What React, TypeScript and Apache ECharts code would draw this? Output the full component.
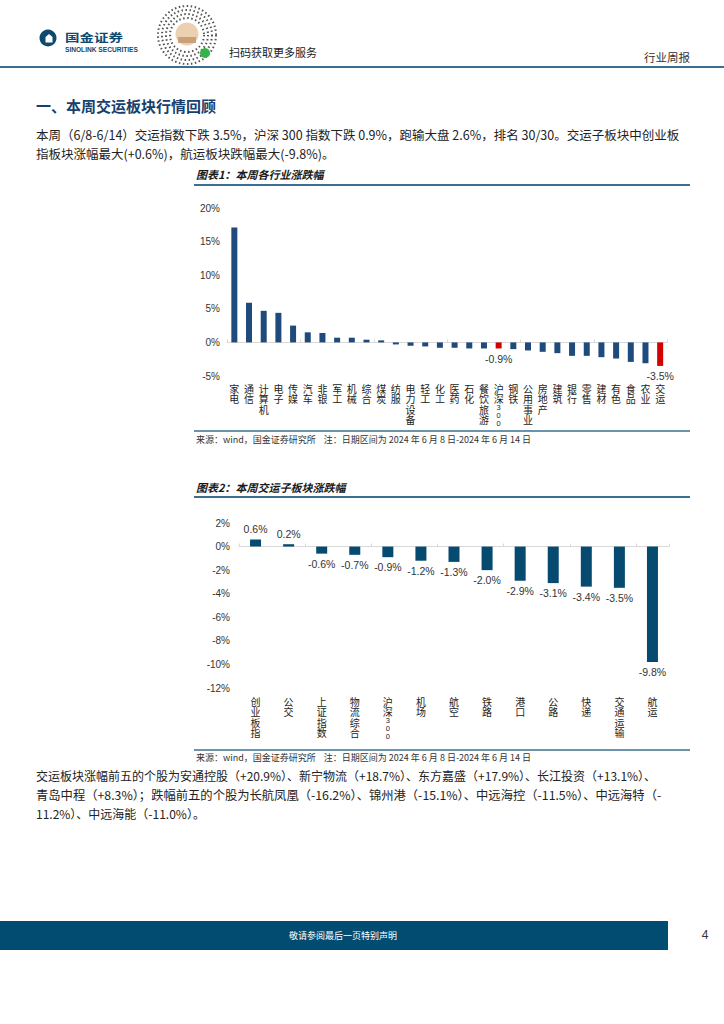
import React, { useEffect, useRef } from "react";
import * as echarts from "echarts";

const industries = ["家电","通信","计算机","电子","传媒","汽车","非银","军工","机械","综合","煤炭","纺服","电力设备","轻工","化工","医药","石化","餐饮旅游","沪深300","钢铁","公用事业","房地产","建筑","银行","零售","建材","有色","食品","农业","交运"];
const industryChanges = [17.1,5.9,4.7,4.4,2.5,1.5,1.4,0.7,0.7,0.4,0.3,-0.3,-0.5,-0.6,-0.8,-0.8,-0.9,-0.9,-0.9,-1.0,-1.2,-1.4,-1.6,-2.0,-2.0,-2.2,-2.4,-2.9,-3.1,-3.5];
const highlighted = ["沪深300","交运"];

const subSectors = ["创业板指","公交","上证指数","物流综合","沪深300","机场","航空","铁路","港口","公路","快递","交通运输","航运"];
const subChanges = [0.6,0.2,-0.6,-0.7,-0.9,-1.2,-1.3,-2.0,-2.9,-3.1,-3.4,-3.5,-9.8];

const chart1Ticks = { min: -5, max: 20, interval: 5 };
const chart2Ticks = { min: -12, max: 2, interval: 2 };

const NUM = '"Liberation Sans", Arial, "Noto Sans CJK SC", sans-serif';
const CJK = '"Noto Sans CJK SC", sans-serif';
const BLUE1 = "#1f4a7c";
const BLUE2 = "#064b6f";
const RED = "#d40000";
const RULE = "#3b6f91";
const DARK = "#0f4a6e";

function vertical(s: string) {
  const parts = s.match(/\d+|./g) || [];
  return parts
    .map((p) => (/\d/.test(p) ? p.split("").map((d) => `{d|${d}}`).join("\n") : `{c|${p}}`))
    .join("\n");
}

function txt(text: string, x: number, y: number, o: any = {}) {
  return {
    type: "text",
    silent: true,
    x,
    y,
    scaleY: o.scaleY || 1,
    style: {
      text,
      x: 0,
      y: 0,
      fill: o.fill || "#222",
      fontSize: o.fontSize || 12,
      fontFamily: o.fontFamily || CJK,
      fontWeight: o.fontWeight || "normal",
      fontStyle: o.fontStyle || "normal",
      textAlign: o.align || "left",
      textVerticalAlign: "middle",
    },
  };
}
function hline(x1: number, x2: number, y: number, w: number, color = RULE) {
  return { type: "line", silent: true, shape: { x1, y1: y, x2, y2: y }, style: { stroke: color, lineWidth: w } };
}

export default function App() {
  const ref = useRef<HTMLDivElement>(null);
  useEffect(() => {
    const chart = echarts.init(ref.current!, null, { renderer: "svg" });
    const richLabel = () => ({
      c: { fontSize: 10, lineHeight: 10.5, fontFamily: CJK, color: "#222" },
      d: { fontSize: 7.5, lineHeight: 7.6, fontFamily: NUM, color: "#222" },
    });
    const source = "来源：wind，国金证券研究所    注：日期区间为 2024 年 6 月 8 日-2024 年 6 月 14 日";
    const graphic: any[] = [
      // header
      { type: "circle", silent: true, shape: { cx: 48, cy: 38, r: 8.5 }, style: { fill: DARK } },
      { type: "polygon", silent: true, shape: { points: [[45.5, 42.5], [45.5, 37], [49, 34], [52.5, 37], [52.5, 42.5]] }, style: { fill: "#fff" } },
      txt("国金证券", 65, 37, { fontSize: 14.5, fontWeight: "bold", fill: DARK, scaleY: 0.75 }),
      txt("SINOLINK SECURITIES", 65, 49, { fontSize: 6.6, fontWeight: "bold", fill: DARK, fontFamily: NUM }),
      ...[29, 25, 21, 17].map((r) => ({
        type: "circle", silent: true, shape: { cx: 187, cy: 35, r },
        style: { fill: "none", stroke: "#555", lineWidth: 2, lineDash: [1.5, 2.5] },
      })),
      { type: "circle", silent: true, shape: { cx: 187, cy: 34, r: 11.5 }, style: { fill: "#ecd0b2" } },
      { type: "rect", silent: true, shape: { x: 178, y: 37, width: 18, height: 6 }, style: { fill: "#c9a07a" } },
      { type: "circle", silent: true, shape: { cx: 205, cy: 53, r: 5 }, style: { fill: "#35b34a" } },
      txt("扫码获取更多服务", 229, 52, { fontSize: 11, fill: "#222" }),
      txt("行业周报", 690, 57, { fontSize: 11.5, fill: "#333", align: "right" }),
      hline(0, 724, 67, 2),
      // section
      txt("一、本周交运板块行情回顾", 36, 105, { fontSize: 15, fontWeight: "bold", fill: "#17406d" }),
      txt("本周（6/8-6/14）交运指数下跌 3.5%，沪深 300 指数下跌 0.9%，跑输大盘 2.6%，排名 30/30。交运子板块中创业板", 36, 134, { fontSize: 12.5 }),
      txt("指板块涨幅最大(+0.6%)，航运板块跌幅最大(-9.8%)。", 36, 153, { fontSize: 12.5 }),
      // chart 1 frame
      txt("图表1：本周各行业涨跌幅", 196, 174, { fontSize: 11, fontWeight: "bold", fontStyle: "italic", fill: "#1a1a1a" }),
      hline(194, 690, 185, 2),
      hline(194, 690, 431, 1.5),
      txt(source, 196, 439, { fontSize: 9, fill: "#333" }),
      // chart 2 frame
      txt("图表2：本周交运子板块涨跌幅", 196, 487, { fontSize: 11, fontWeight: "bold", fontStyle: "italic", fill: "#1a1a1a" }),
      hline(194, 690, 497, 2),
      hline(194, 690, 750, 1.5),
      txt(source, 196, 757, { fontSize: 9, fill: "#333" }),
      // paragraph 2
      txt("交运板块涨幅前五的个股为安通控股（+20.9%）、新宁物流（+18.7%）、东方嘉盛（+17.9%）、长江投资（+13.1%）、", 36, 775, { fontSize: 12 }),
      txt("青岛中程（+8.3%）；跌幅前五的个股为长航凤凰（-16.2%）、锦州港（-15.1%）、中远海控（-11.5%）、中远海特（-", 36, 795, { fontSize: 12.3 }),
      txt("11.2%）、中远海能（-11.0%）。", 36, 813, { fontSize: 12 }),
      // footer
      { type: "rect", silent: true, shape: { x: 0, y: 921, width: 668, height: 29 }, style: { fill: "#014c70" } },
      txt("敬请参阅最后一页特别声明", 343, 935, { fontSize: 9, fill: "#fff", align: "center" }),
      txt("4", 705, 935, { fontSize: 12, fill: "#333", align: "center", fontFamily: NUM }),
    ];

    const option: any = {
      animation: false,
      backgroundColor: "#fff",
      graphic,
      grid: [
        { left: 227, right: 56.5, top: 208, bottom: 648 },
        { left: 239, right: 55, top: 523, bottom: 336 },
      ],
      xAxis: [
        {
          type: "category", gridIndex: 0, data: industries, position: "bottom",
          axisLine: { show: false, onZero: false }, axisTick: { show: false },
          axisLabel: { interval: 0, margin: 7, formatter: (v: string) => vertical(v), rich: richLabel() },
        },
        {
          type: "category", gridIndex: 0, data: industries, position: "top",
          axisLine: { show: true, onZero: true, lineStyle: { color: "#d9d9d9", width: 1 } },
          axisTick: { show: true, length: 3, lineStyle: { color: "#d9d9d9" } },
          axisLabel: { show: false },
        },
        {
          type: "category", gridIndex: 1, data: subSectors, position: "bottom",
          axisLine: { show: false, onZero: false }, axisTick: { show: false },
          axisLabel: { interval: 0, margin: 8, formatter: (v: string) => vertical(v), rich: richLabel() },
        },
        {
          type: "category", gridIndex: 1, data: subSectors, position: "top",
          axisLine: { show: true, onZero: true, lineStyle: { color: "#d9d9d9", width: 1 } },
          axisTick: { show: true, length: 3, lineStyle: { color: "#d9d9d9" } },
          axisLabel: { show: false },
        },
      ],
      yAxis: [
        {
          type: "value", gridIndex: 0, ...chart1Ticks,
          splitLine: { show: false }, axisLine: { show: false }, axisTick: { show: false },
          axisLabel: { formatter: "{value}%", margin: 7, fontSize: 10, color: "#333", fontFamily: NUM },
        },
        {
          type: "value", gridIndex: 1, ...chart2Ticks,
          splitLine: { show: false }, axisLine: { show: false }, axisTick: { show: false },
          axisLabel: { formatter: "{value}%", margin: 9, fontSize: 10, color: "#333", fontFamily: NUM },
        },
      ],
      series: [
        {
          type: "bar", xAxisIndex: 0, yAxisIndex: 0, barWidth: 6,
          data: industries.map((name, i) => {
            const hi = highlighted.includes(name);
            return {
              value: industryChanges[i],
              itemStyle: { color: hi ? RED : BLUE1 },
              label: {
                show: hi, position: "bottom", distance: 5, fontSize: 10.5, color: "#333", fontFamily: NUM,
                formatter: (p: any) => p.value.toFixed(1) + "%",
              },
            };
          }),
        },
        {
          type: "bar", xAxisIndex: 2, yAxisIndex: 1, barWidth: 11,
          itemStyle: { color: BLUE2 },
          data: subChanges.map((v) => ({
            value: v,
            label: {
              show: true, position: v >= 0 ? "top" : "bottom", distance: 5, fontSize: 10.5,
              color: "#333", fontFamily: NUM, formatter: (p: any) => p.value.toFixed(1) + "%",
            },
          })),
        },
      ],
    };
    chart.setOption(option);
    return () => chart.dispose();
  }, []);
  return (
    <div
      ref={ref}
      style={{ position: "absolute", left: 0, top: 0, width: 724, height: 1024, background: "#fff" }}
    />
  );
}
